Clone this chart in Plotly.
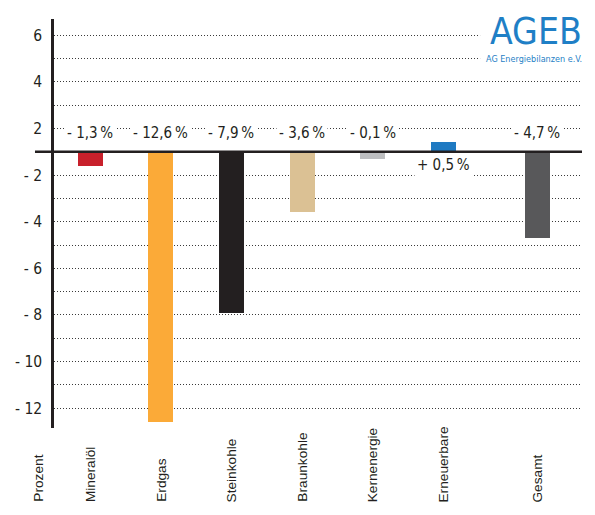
import plotly.graph_objects as go

categories = ["Mineralöl", "Erdgas", "Steinkohle", "Braunkohle", "Kernenergie", "Erneuerbare", "Gesamt"]
changes = [-1.3, -12.6, -7.9, -3.6, -0.1, 0.5, -4.7]
colors = ["#c8202b", "#fbaa38", "#231f20", "#dbc194", "#bdbec0", "#1f7ac2", "#58585a"]
tick_labels = [6, 4, 2, -2, -4, -6, -8, -10, -12]
axis_title = "Prozent"

NARROW = "Liberation Sans Narrow, DejaVu Sans Condensed, Arial Narrow, sans-serif"
LABEL = "Liberation Sans, Arial, sans-serif"
DARK = "#231f20"
BLUE = "#1f7fc6"


# the original scale drops one unit around zero (2 sits one grid step from 0),
# small values are stretched so they stay visible
def squash(v):
    s = 1 if v > 0 else -1
    return s * max(abs(v) - 1, 0.3 + 0.25 * abs(v))


def pct_text(v):
    sign = "+" if v > 0 else "-"
    return f"{sign} {abs(v):.1f}".replace(".", ",") + "\u2009%"


# Gesamt stands a little apart from the single energy sources
xpos = [i + (0.33 if c == "Gesamt" else 0) for i, c in enumerate(categories)]

fig = go.Figure()
fig.add_trace(go.Bar(
    x=xpos,
    y=[squash(v) for v in changes],
    width=0.355,
    marker=dict(color=colors, line=dict(width=0)),
    hovertext=[f"{c}: {pct_text(v)}" for c, v in zip(categories, changes)],
    hoverinfo="text",
    showlegend=False,
))

annotations = []
for x, v in zip(xpos, changes):
    if v < 0:
        annotations.append(dict(x=x, y=0, xref="x", yref="y", text=pct_text(v), showarrow=False,
                                yanchor="bottom", yshift=7, bgcolor="white", borderpad=2,
                                font=dict(family=NARROW, size=15, color=DARK)))
    else:
        annotations.append(dict(x=x, y=0, xref="x", yref="y", text=pct_text(v), showarrow=False,
                                yanchor="top", yshift=-1, bgcolor="white", borderpad=2,
                                font=dict(family=NARROW, size=15, color=DARK)))

# category names, rotated, standing on a common baseline under each bar
for x, c in zip(xpos, categories):
    annotations.append(dict(x=x, y=-0.186, xref="x", yref="paper", text=c,
                            showarrow=False, textangle=-90, xanchor="center", yanchor="bottom",
                            font=dict(family=LABEL, size=13.7, color=DARK)))
annotations.append(dict(x=-0.03, y=-0.186, xref="paper", yref="paper", text=axis_title,
                        showarrow=False, textangle=-90, xanchor="center", yanchor="bottom",
                        font=dict(family=LABEL, size=13.7, color=DARK)))

# AGEB logo (a white patch behind it hides the top gridlines)
annotations.append(dict(x=1.003, y=0.9694, xref="paper", yref="paper", text="AGEB",
                        showarrow=False, xanchor="right", yanchor="middle",
                        font=dict(family=NARROW, size=37, color=BLUE, weight=300)))
annotations.append(dict(x=1.003, y=0.9034, xref="paper", yref="paper", text="AG Energiebilanzen e.V.",
                        showarrow=False, xanchor="right", yanchor="middle",
                        font=dict(family=NARROW, size=9, color=BLUE)))

grid_steps = list(range(-11, 6))

fig.update_layout(
    width=595,
    height=515,
    margin=dict(l=54, r=13, t=19, b=87, autoexpand=False),
    paper_bgcolor="white",
    plot_bgcolor="white",
    bargap=0,
    annotations=annotations,
    shapes=[
        dict(type="line", xref="paper", yref="y", x0=-0.036, x1=1.0, y0=0, y1=0,
             line=dict(color=DARK, width=2.5), layer="above"),
        dict(type="rect", xref="paper", yref="paper", x0=0.807, x1=1.02, y0=0.893, y1=1.03,
             fillcolor="white", line=dict(width=0), layer="above"),
    ],
    xaxis=dict(range=[-0.51, 6.96], showticklabels=False, showgrid=False, zeroline=False,
               showline=False, ticks="", fixedrange=True, automargin=False),
    yaxis=dict(
        range=[-11.85, 5.7],
        tickmode="array",
        tickvals=[squash(t) for t in tick_labels],
        ticktext=[f"- {abs(t)}" if t < 0 else str(t) for t in tick_labels],
        tickfont=dict(family=NARROW, size=15.5, color=DARK),
        ticks="",
        ticklabelstandoff=6,
        showline=True, linewidth=2.5, linecolor=DARK,
        showgrid=True, gridcolor="#3a3a3a", gridwidth=1, griddash="1px,2px",
        minor=dict(tickmode="array", tickvals=grid_steps, showgrid=True,
                   gridcolor="#3a3a3a", gridwidth=1, griddash="1px,2px"),
        zeroline=False,
        fixedrange=True,
        automargin=False,
    ),
)

fig.write_html("out.html", config={"displayModeBar": False},
               post_script="document.body.style.margin='0';")
